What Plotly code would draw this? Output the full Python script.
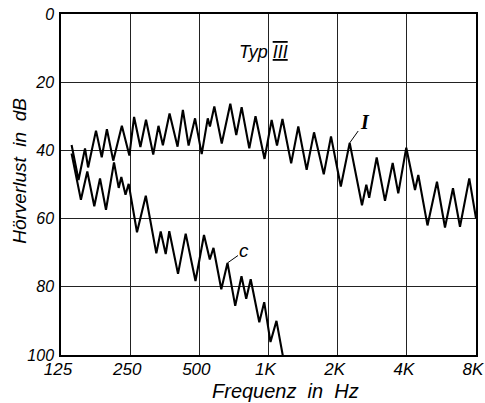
import math
import plotly.graph_objects as go

# Curve I (Bekesy tracing), frequency in Hz and hearing loss in dB
freq_I = [139, 149, 159, 164, 177.5, 188, 198, 211, 230, 248, 260, 277, 293, 315, 332,
          347, 371, 402, 424, 449, 479, 512, 544, 556, 581, 626, 682, 724, 764, 825,
          878, 961, 1032, 1089, 1150, 1255, 1348, 1466, 1578, 1740, 1871, 2064, 2256,
          2552, 2665, 2743, 2957, 3214, 3471, 3671, 3978, 4341, 4487, 4920, 5411, 5863,
          6352, 6814, 7479, 8000]
loss_I = [38.4, 48.7, 39.4, 45.0, 34.2, 42.0, 33.8, 43.0, 32.8, 41.5, 30.2, 39.0, 31.0,
          41.2, 32.8, 38.5, 29.2, 38.9, 28.1, 38.6, 30.6, 41.1, 30.6, 33.0, 27.1, 38.0,
          26.3, 35.5, 27.3, 39.4, 30.0, 42.5, 31.1, 38.6, 30.8, 43.8, 33.0, 45.7, 34.7,
          47.0, 35.9, 50.6, 37.8, 56.1, 50.1, 53.9, 42.1, 54.8, 43.7, 52.6, 39.2, 51.6,
          47.2, 62.0, 49.2, 62.6, 51.1, 62.4, 48.2, 59.9]

# Curve c
freq_c = [139, 152.6, 162.7, 174.5, 184.8, 196.2, 212.6, 222.9, 228.8, 238.6, 246.3,
          267.7, 292.4, 324.9, 339.5, 356.9, 370, 403.8, 436.1, 481.1, 523.9, 555.3,
          576.2, 623.1, 663, 716.3, 762.9, 799.8, 836.6, 911.9, 957.9, 1020, 1083, 1156.5]
loss_c = [40.9, 54.5, 46.2, 56.4, 48.2, 57.4, 43.5, 51.0, 47.8, 53.0, 49.8, 64.0, 53.3,
          70.2, 63.8, 70.4, 63.7, 76.2, 64.4, 78.3, 64.8, 72.0, 68.6, 80.7, 73.0, 85.6,
          76.9, 83.5, 77.8, 90.4, 84.5, 96.2, 90.0, 100.5]

x_tickvals = [125, 250, 500, 1000, 2000, 4000, 8000]
x_ticktext = ["125", "250", "500", "1K", "2K", "4K", "8K"]
y_tickvals = [0, 20, 40, 60, 80, 100]
y_ticktext = ["0", "20", "40", "60", "80", "100"]

FONT = "Liberation Sans, Arial, sans-serif"
SERIF = "Liberation Serif, DejaVu Serif, serif"

fig = go.Figure()
fig.add_trace(go.Scatter(x=freq_I, y=loss_I, mode="lines",
                         line=dict(color="black", width=2.1), showlegend=False))
fig.add_trace(go.Scatter(x=freq_c, y=loss_c, mode="lines",
                         line=dict(color="black", width=2.1), showlegend=False))

fig.update_layout(
    width=485, height=403,
    margin=dict(l=61, r=9, t=14, b=48, autoexpand=False),
    paper_bgcolor="white", plot_bgcolor="white",
    font=dict(family=FONT, color="black", size=16, style="italic"),
)
fig.update_xaxes(
    type="log", range=[math.log10(125), math.log10(8000)],
    tickvals=x_tickvals, ticktext=x_ticktext,
    tickfont=dict(size=17, style="italic", family=FONT),
    ticklabelstandoff=-2, ticklabelshift=-3, ticklabeloverflow="allow",
    showgrid=True, gridcolor="#222", gridwidth=1,
    showline=True, linecolor="black", linewidth=1.5, mirror=True,
    ticks="", zeroline=False, automargin=False,
)
fig.update_yaxes(
    range=[100, 0],
    tickvals=y_tickvals, ticktext=y_ticktext,
    tickfont=dict(size=16, style="italic", family=FONT),
    ticklabelstandoff=2, ticklabeloverflow="allow",
    showgrid=True, gridcolor="#222", gridwidth=1,
    showline=True, linecolor="black", linewidth=1.5, mirror=True,
    ticks="", zeroline=False, automargin=False,
)

# axis titles
fig.add_annotation(x=0.54, y=-0.105, xref="paper", yref="paper", showarrow=False,
                   xanchor="center", yanchor="middle",
                   text="Frequenz\u00a0 in\u00a0 Hz",
                   font=dict(size=20, style="italic", family=FONT))
fig.add_annotation(x=-0.099, y=0.54, xref="paper", yref="paper", showarrow=False,
                   xanchor="center", yanchor="middle", textangle=-90,
                   text="Hörverlust\u00a0 in\u00a0 dB",
                   font=dict(size=19, style="italic", family=FONT))

fig.add_annotation(x=0.489, y=0.889, xref="paper", yref="paper", showarrow=False,
                   xanchor="center", yanchor="middle",
                   text='Typ <span style="text-decoration:underline overline">III</span>',
                   font=dict(size=18, style="italic", family=FONT))
# curve labels with leader lines (annotation x on a log axis is given in log10 units)
fig.add_annotation(x=math.log10(freq_I[42]), y=loss_I[42], text="I", showarrow=True,
                   arrowhead=0, arrowwidth=1, arrowcolor="black", ax=15, ay=-21,
                   font=dict(size=20, family=SERIF, style="italic", weight="bold"))
fig.add_annotation(x=math.log10(freq_c[24]), y=loss_c[24], text="c", showarrow=True,
                   arrowhead=0, arrowwidth=1, arrowcolor="black", ax=17, ay=-12,
                   font=dict(size=19, family=FONT, style="italic"))

# remove the default 8px body margin so the figure fills the window exactly
fig.write_html("out.html", config={"displayModeBar": False},
               post_script="document.body.style.margin='0';")
